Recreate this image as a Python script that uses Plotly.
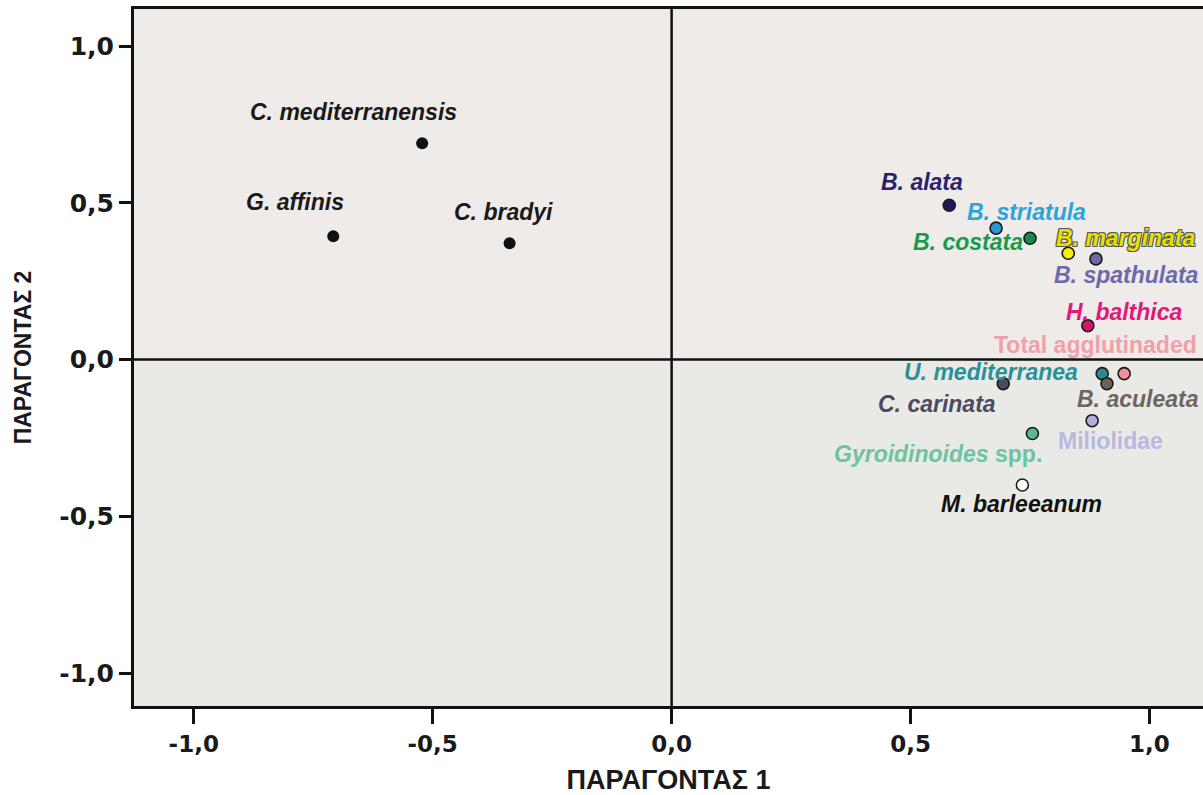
import plotly.graph_objects as go

# ---- data ----
names = ["C. mediterranensis", "G. affinis", "C. bradyi",
         "B. alata", "B. striatula", "B. costata", "B. marginata", "B. spathulata",
         "H. balthica", "Total agglutinaded", "U. mediterranea", "B. aculeata",
         "C. carinata", "Miliolidae", "Gyroidinoides spp.", "M. barleeanum"]
factor1 = [-0.522, -0.708, -0.339,
           0.581, 0.679, 0.750, 0.830, 0.888,
           0.871, 0.947, 0.901, 0.911,
           0.694, 0.880, 0.755, 0.734]
factor2 = [0.690, 0.393, 0.371,
           0.492, 0.419, 0.387, 0.339, 0.321,
           0.108, -0.045, -0.045, -0.077,
           -0.077, -0.195, -0.236, -0.400]
tick_vals = [-1.0, -0.5, 0.0, 0.5, 1.0]
tick_text = ["-1,0", "-0,5", "0,0", "0,5", "1,0"]

# ---- styles ----
marker_colors = ["#111111", "#111111", "#111111",
                 "#1e1a5c", "#2a98d8", "#158a4a", "#f5f000", "#6b6aa8",
                 "#d8146e", "#f09098", "#2a8a90", "#6a605c",
                 "#4a4a5e", "#b0b0dc", "#5cb890", "#ffffff"]
outline = [0, 0, 0] + [1.6] * 13
label_colors = ["#1a1a1a", "#1a1a1a", "#1a1a1a",
                "#2b1f6e", "#2aa5dc", "#1a9a4a", "#e8e000", "#6b6aaa",
                "#e0197a", "#f0a0a8", "#2a9098", "#6e6560",
                "#4a4a62", "#b8b8e0", "#6cc4a0", "#111111"]
label_html = ["<i>C. mediterranensis</i>", "<i>G. affinis</i>", "<i>C. bradyi</i>",
              "<i>B. alata</i>", "<i>B. striatula</i>", "<i>B. costata</i>",
              "<i>B. marginata</i>", "<i>B. spathulata</i>", "<i>H. balthica</i>",
              "Total agglutinaded", "<i>U. mediterranea</i>", "<i>B. aculeata</i>",
              "<i>C. carinata</i>", "Miliolidae", "<i>Gyroidinoides</i> spp.",
              "<i>M. barleeanum</i>"]
# label offsets (pixels) relative to each point
label_dx = [-69, -38, -6, -27, 30, -62, 58, 31, 37, -29, -111, 31, -66, 18, -94, -1]
label_dy = [31, 34, 31, 23, 16, -4, 15, -16, 14, 29, 2, -15, -20, -20, -20, -19]

FONT = "Liberation Sans, Arial, sans-serif"
TICKFONT = "DejaVu Sans, Arial, sans-serif"

fig = go.Figure()

fig.add_trace(go.Scatter(
    x=factor1, y=factor2, mode="markers",
    marker=dict(size=12, color=marker_colors,
                line=dict(color="#1a1a1a", width=outline)),
    hovertext=names, hoverinfo="text", showlegend=False, cliponaxis=False))

for i, lab in enumerate(label_html):
    shadow = "none"
    if names[i] == "B. marginata":
        shadow = "1px 1px 0 #555, -1px -1px 0 #555, 1px -1px 0 #555, -1px 1px 0 #555"
    fig.add_annotation(
        x=factor1[i], y=factor2[i], text=lab, showarrow=False,
        xshift=label_dx[i], yshift=label_dy[i],
        font=dict(family=FONT, size=23,
                  color=label_colors[i], weight="bold", shadow=shadow))

# upper half slightly warmer background
fig.add_shape(type="rect", xref="paper", yref="y", x0=0, x1=1, y0=0, y1=1.2,
              fillcolor="#eeebe8", line_width=0, layer="below")
# zero lines
fig.add_shape(type="line", xref="paper", yref="y", x0=0, x1=1, y0=0, y1=0,
              line=dict(color="#111111", width=2.5), layer="below")
fig.add_shape(type="line", xref="x", yref="paper", x0=0, x1=0, y0=0, y1=1,
              line=dict(color="#111111", width=2.5), layer="below")

fig.update_layout(
    width=1203, height=795,
    margin=dict(l=134, r=0, t=9, b=89),
    paper_bgcolor="white", plot_bgcolor="#e9eae6",
    xaxis=dict(range=[-1.125, 1.112], tickvals=tick_vals, ticktext=tick_text,
               showgrid=False, zeroline=False,
               showline=True, linecolor="#111111", linewidth=3, mirror=True,
               ticks="outside", ticklen=15, tickwidth=3, tickcolor="#111111",
               tickfont=dict(family=TICKFONT, size=23, color="#1a1a1a", weight="bold"),
               title=dict(text="ΠΑΡΑΓΟΝΤΑΣ 1", standoff=15,
                          font=dict(family=FONT, size=27, color="#1a1a1a", weight="bold"))),
    yaxis=dict(range=[-1.105, 1.118], tickvals=tick_vals, ticktext=tick_text,
               showgrid=False, zeroline=False,
               showline=True, linecolor="#111111", linewidth=3, mirror=False,
               ticks="outside", ticklen=12, tickwidth=3, tickcolor="#111111",
               tickfont=dict(family=TICKFONT, size=25, color="#1a1a1a", weight="bold"),
               title=dict(text="ΠΑΡΑΓΟΝΤΑΣ 2", standoff=22,
                          font=dict(family=FONT, size=23, color="#1a1a1a", weight="bold"))),
)

fig.write_html("out.html")
